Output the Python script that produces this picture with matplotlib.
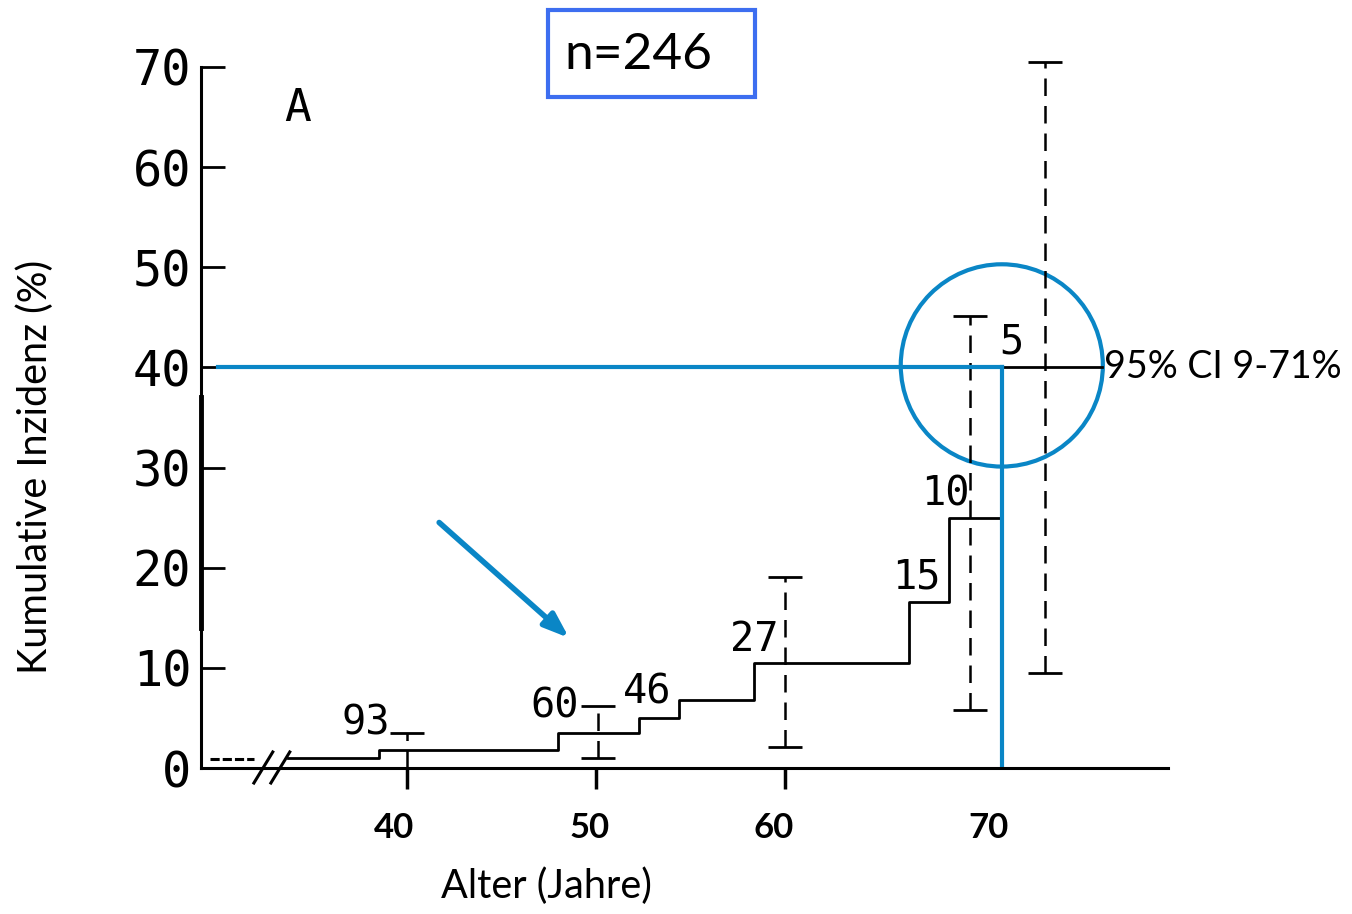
import numpy as np
import matplotlib.pyplot as plt
from matplotlib.patches import Ellipse, Rectangle

# Kumulative Inzidenz (Treppenkurve)
step_x = [33.7, 38.5, 48.0, 52.3, 54.4, 58.4, 66.6, 68.7, 71.5, 76.8]
step_y = [1.0, 1.8, 3.5, 5.0, 6.8, 10.5, 16.6, 25.0, 40.0, 40.0]
start_x = [29.6, 31.9]
start_y = [0.9, 0.9]

# 95%-Konfidenzintervalle
ci_x = [40.0, 50.1, 60.0, 69.8, 73.8]
ci_lo = [0.0, 1.0, 2.1, 5.8, 9.5]
ci_hi = [3.5, 6.2, 19.1, 45.1, 70.5]

# Zahl unter Risiko
risk_labels = ['93', '60', '46', '27', '15', '10', '5']
risk_x = [37.8, 47.8, 52.7, 58.4, 67.0, 68.5, 72.0]
risk_y = [4.4, 6.1, 7.5, 12.8, 19.0, 27.3, 42.5]

y_ticks = [0, 10, 20, 30, 40, 50, 60, 70]
x_ticks = [40, 50, 60]
x_labels = ['40', '50', '60', '70']
x_label_pos = [39.3, 49.7, 59.4, 70.8]

blue = '#0a86c6'
mono = 'DejaVu Sans Mono'
sans = 'Lato'

fig = plt.figure(figsize=(13.52, 9.14), dpi=100)
ax = fig.add_axes([201 / 1352, 146 / 914, 967 / 1352, 701 / 914])
ax.set_xlim(29.1, 80.3)
ax.set_ylim(0, 70)
ax.spines['top'].set_visible(False)
ax.spines['right'].set_visible(False)
ax.spines['left'].set_linewidth(2.2)
ax.spines['bottom'].set_linewidth(2.2)

ax.set_yticks(y_ticks)
ax.set_yticklabels([str(v) for v in y_ticks], family=mono, fontsize=35)
ax.tick_params(axis='y', direction='in', length=17, width=2, pad=7)
ax.set_xticks(x_ticks)
ax.set_xticklabels([])
ax.tick_params(axis='x', direction='out', length=15, width=2.5)

# Kurve
ax.plot(start_x, start_y, color='black', lw=2.2, ls=(0, (3, 1)), clip_on=False)
ax.step(step_x, step_y, where='post', color='black', lw=2)
ax.plot([29.1, 29.1], [14, 37], color='black', lw=3.5, clip_on=False)

# Bruchzeichen
for x0 in [31.9, 32.8]:
    ax.plot([x0, x0 + 1.0], [-1.5, 1.6], color='black', lw=2.2, clip_on=False)

ci_lo_a = np.array(ci_lo)
ci_hi_a = np.array(ci_hi)
mid = (ci_lo_a + ci_hi_a) / 2
eb = ax.errorbar(ci_x, mid, yerr=[mid - ci_lo_a, ci_hi_a - mid], fmt='none',
                 ecolor='black', elinewidth=1.8, capsize=12, capthick=2, clip_on=False)
eb[2][0].set_linestyle((0, (7, 4)))

for lab, x, y in zip(risk_labels, risk_x, risk_y):
    ax.text(x, y, lab, family=mono, fontsize=29, ha='center', va='center')
ax.text(34.2, 65.9, 'A', family=mono, fontsize=32, ha='center', va='center')

# Blaue Markierungen
ax.plot([30.0, 71.5], [40, 40], color=blue, lw=3, clip_on=False)
ax.plot([71.5, 71.5], [40, 0], color=blue, lw=3)
ax.add_patch(Ellipse((71.5, 40.2), 10.7, 20.2, fill=False, ec=blue, lw=3, clip_on=False))
ax.annotate('', xy=(48.7, 12.8), xytext=(41.6, 24.7),
            arrowprops=dict(arrowstyle='-|>,head_length=1.5,head_width=0.55',
                            color=blue, lw=4))

ax.text(76.9, 40.0, '95% CI 9-71%', family=sans, fontsize=27, ha='left', va='center')

for lab, x in zip(x_labels, x_label_pos):
    ax.text(x, -6.0, lab, family=sans, fontsize=25, fontweight='bold',
            ha='center', va='center')
ax.text(47.4, -11.8, 'Alter (Jahre)', family=sans, fontsize=28.5, ha='center', va='center')
ax.text(20.3, 30.1, 'Kumulative Inzidenz (%)', family=sans, fontsize=28.5,
        rotation=90, ha='center', va='center')

fig.add_artist(Rectangle((548 / 1352, 1 - 97 / 914), 207 / 1352, 87 / 914,
                         transform=fig.transFigure, fill=False, ec='#3d6ef0', lw=3))
fig.text(638 / 1352, 1 - 55 / 914, 'n=246', family=sans, fontsize=37,
         ha='center', va='center')

fig.savefig('out.png', dpi=100)
